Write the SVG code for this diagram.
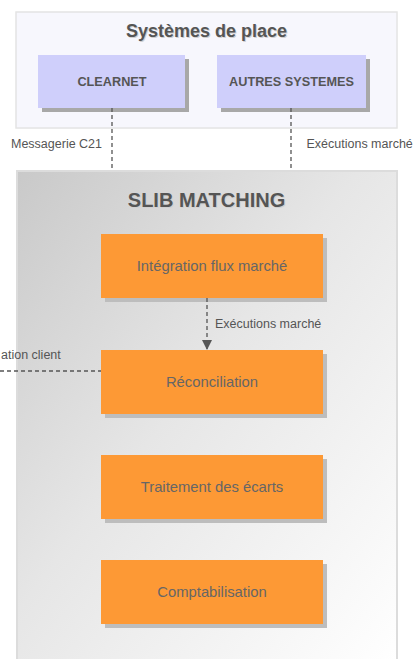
<svg xmlns="http://www.w3.org/2000/svg" width="415" height="659" viewBox="0 0 415 659">
<defs>
<linearGradient id="slibGrad" x1="0" y1="0" x2="1" y2="1">
<stop offset="0" stop-color="#c9c9c9"/>
<stop offset="0.45" stop-color="#e6e6e6"/>
<stop offset="1" stop-color="#ffffff"/>
</linearGradient>
<marker id="arrow" viewBox="0 0 10 10" refX="9" refY="5" markerWidth="10" markerHeight="10" markerUnits="userSpaceOnUse" orient="auto">
<path d="M0,0 L10,5 L0,10 z" fill="#555"/>
</marker>
</defs>
<style>
.title{font-family:"Liberation Sans",Arial,sans-serif;font-weight:bold;fill:#555;text-anchor:middle}
.shadowText{fill:#d0d0d0}
.sys{fill:#cfcffb}
.sysShadow{fill:#a8a8a8}
.sysText{font-family:"Liberation Sans",Arial,sans-serif;font-weight:bold;font-size:12.7px;fill:#555;text-anchor:middle}
.proc{fill:#fd9935}
.procShadow{fill:#bdbdbd}
.procText{font-family:"Liberation Sans",Arial,sans-serif;font-size:14.8px;fill:#666;text-anchor:middle}
.lbl{font-family:"Liberation Sans",Arial,sans-serif;font-size:12.5px;fill:#555}
.dash{stroke:#555;stroke-width:1.3;stroke-dasharray:4,3;fill:none}
</style>

<g id="systemes-de-place">
<rect x="16" y="12" width="381" height="116" fill="#f7f7fd" stroke="#e4e4e4" stroke-width="1.5"/>
<text class="title shadowText" x="207.5" y="38" font-size="18">Systèmes de place</text>
<text class="title" x="206.5" y="37" font-size="18">Systèmes de place</text>
</g>

<g id="clearnet">
<rect class="sysShadow" x="42" y="59" width="147" height="53"/>
<rect class="sys" x="38" y="55" width="147" height="53"/>
<text class="sysText" x="112" y="86">CLEARNET</text>
</g>

<g id="autres-systemes">
<rect class="sysShadow" x="221" y="59" width="149" height="53"/>
<rect class="sys" x="217" y="55" width="149" height="53"/>
<text class="sysText" x="291.5" y="86">AUTRES SYSTEMES</text>
</g>

<g id="slib-matching">
<rect x="17" y="171" width="380" height="490" fill="url(#slibGrad)" stroke="#dcdcdc" stroke-width="2"/>
<text class="title shadowText" x="207.5" y="208" font-size="20">SLIB MATCHING</text>
<text class="title" x="206.5" y="207" font-size="20">SLIB MATCHING</text>
</g>

<g id="integration">
<rect class="procShadow" x="105" y="238" width="222" height="64"/>
<rect class="proc" x="101" y="234" width="222" height="64"/>
<text class="procText" x="212" y="271">Intégration flux marché</text>
</g>

<g id="reconciliation">
<rect class="procShadow" x="105" y="354" width="222" height="64"/>
<rect class="proc" x="101" y="350" width="222" height="64"/>
<text class="procText" x="212" y="387">Réconciliation</text>
</g>

<g id="traitement">
<rect class="procShadow" x="105" y="459" width="222" height="64"/>
<rect class="proc" x="101" y="455" width="222" height="64"/>
<text class="procText" x="212" y="492">Traitement des écarts</text>
</g>

<g id="comptabilisation">
<rect class="procShadow" x="105" y="564" width="222" height="64"/>
<rect class="proc" x="101" y="560" width="222" height="64"/>
<text class="procText" x="212" y="597">Comptabilisation</text>
</g>

<g id="connectors">
<line class="dash" x1="112" y1="108" x2="112" y2="171"/>
<text class="lbl" x="11" y="148">Messagerie C21</text>
<line class="dash" x1="291" y1="108" x2="291" y2="171"/>
<text class="lbl" x="306.5" y="148">Exécutions marché</text>
<line class="dash" x1="207" y1="298" x2="207" y2="349" marker-end="url(#arrow)"/>
<text class="lbl" x="215" y="328">Exécutions marché</text>
<line class="dash" x1="0" y1="371" x2="101" y2="371"/>
<text class="lbl" x="1" y="359">ation client</text>
</g>
</svg>
